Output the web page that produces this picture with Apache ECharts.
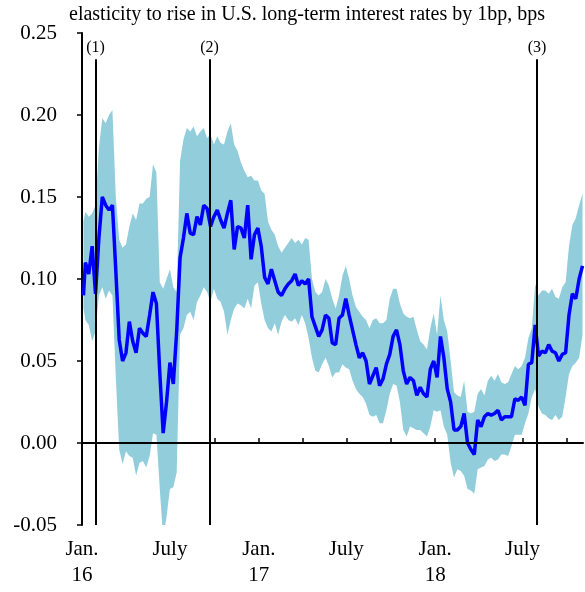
<!DOCTYPE html>
<html>
<head>
<meta charset="utf-8">
<script src="https://cdn.jsdelivr.net/npm/echarts@6/dist/echarts.min.js"></script>
<style>
html,body{margin:0;padding:0;background:#fff;}
#chart{width:585px;height:592px;}
</style>
</head>
<body>
<div id="chart"></div>
<script>
// ---- data ----
const titleText = 'elasticity to rise in U.S. long-term interest rates by 1bp, bps';

const dates = ['2016-01-04',
'2016-01-08','2016-01-15','2016-01-22','2016-01-29','2016-02-05','2016-02-12','2016-02-19','2016-02-26',
'2016-03-04','2016-03-11','2016-03-18','2016-03-25','2016-04-01','2016-04-08','2016-04-15','2016-04-22','2016-04-29',
'2016-05-06','2016-05-13','2016-05-20','2016-05-27','2016-06-03','2016-06-10','2016-06-17','2016-06-24',
'2016-07-01','2016-07-08','2016-07-15','2016-07-22','2016-07-29','2016-08-05','2016-08-12','2016-08-19','2016-08-26',
'2016-09-02','2016-09-09','2016-09-16','2016-09-23','2016-09-30','2016-10-07','2016-10-14','2016-10-21','2016-10-28',
'2016-11-04','2016-11-11','2016-11-18','2016-11-25','2016-12-02','2016-12-09','2016-12-16','2016-12-23','2016-12-30',
'2017-01-06','2017-01-13','2017-01-20','2017-01-27','2017-02-03','2017-02-10','2017-02-17','2017-02-24',
'2017-03-03','2017-03-10','2017-03-17','2017-03-24','2017-03-31','2017-04-07','2017-04-14','2017-04-21','2017-04-28',
'2017-05-05','2017-05-12','2017-05-19','2017-05-26','2017-06-02','2017-06-09','2017-06-16','2017-06-23','2017-06-30',
'2017-07-07','2017-07-14','2017-07-21','2017-07-28','2017-08-04','2017-08-11','2017-08-18','2017-08-25',
'2017-09-01','2017-09-08','2017-09-15','2017-09-22','2017-09-29','2017-10-06','2017-10-13','2017-10-20','2017-10-27',
'2017-11-03','2017-11-10','2017-11-17','2017-11-24','2017-12-01','2017-12-08','2017-12-15','2017-12-22','2017-12-29',
'2018-01-05','2018-01-12','2018-01-19','2018-01-26','2018-02-02','2018-02-09','2018-02-16','2018-02-23',
'2018-03-02','2018-03-09','2018-03-16','2018-03-23','2018-03-30','2018-04-06','2018-04-13','2018-04-20','2018-04-27',
'2018-05-04','2018-05-11','2018-05-18','2018-05-25','2018-06-01','2018-06-08','2018-06-15','2018-06-22','2018-06-29',
'2018-07-06','2018-07-13','2018-07-20','2018-07-27','2018-08-03','2018-08-10','2018-08-17','2018-08-24','2018-08-31',
'2018-09-07','2018-09-14','2018-09-21','2018-09-28','2018-10-05','2018-10-12','2018-10-19','2018-10-26','2018-11-02'];

const elasticity = [0.090,
0.110,0.103,0.120,0.091,0.125,0.150,0.145,0.142,0.145,0.105,
0.063,0.050,0.055,0.074,0.062,0.055,0.070,0.067,0.065,0.078,
0.092,0.085,0.043,0.006,0.025,0.049,0.036,0.068,0.113,0.125,
0.140,0.128,0.127,0.138,0.133,0.145,0.143,0.132,0.138,0.142,
0.136,0.131,0.140,0.148,0.118,0.132,0.131,0.125,0.145,0.112,
0.127,0.131,0.120,0.101,0.097,0.106,0.099,0.092,0.090,0.094,
0.097,0.099,0.103,0.096,0.099,0.097,0.100,0.077,0.071,0.065,
0.069,0.078,0.076,0.061,0.060,0.076,0.078,0.088,0.078,0.069,
0.060,0.052,0.055,0.050,0.036,0.041,0.046,0.035,0.039,0.048,
0.054,0.065,0.069,0.060,0.044,0.036,0.040,0.038,0.029,0.034,
0.030,0.028,0.045,0.050,0.040,0.065,0.052,0.033,0.025,0.008,
0.008,0.010,0.018,0.000,-0.004,-0.007,0.014,0.010,0.016,0.018,
0.017,0.018,0.020,0.014,0.016,0.016,0.016,0.027,0.026,0.028,
0.023,0.048,0.049,0.072,0.053,0.056,0.055,0.060,0.056,0.055,
0.050,0.054,0.055,0.078,0.091,0.088,0.100,0.108];

const bandLower = [0.082,
0.075,0.072,0.062,0.068,0.090,0.095,0.088,0.093,0.090,0.040,
-0.004,-0.013,-0.005,-0.008,-0.009,-0.020,-0.012,-0.011,-0.015,-0.008,
0.006,0.005,-0.028,-0.058,-0.045,-0.028,-0.027,-0.018,0.066,0.070,
0.078,0.080,0.075,0.086,0.090,0.095,0.092,0.086,0.094,0.088,
0.086,0.080,0.066,0.075,0.082,0.085,0.084,0.082,0.088,0.082,
0.096,0.098,0.085,0.075,0.070,0.068,0.073,0.066,0.074,0.078,
0.075,0.074,0.076,0.072,0.078,0.073,0.064,0.052,0.044,0.043,
0.048,0.052,0.047,0.040,0.043,0.043,0.048,0.046,0.045,0.038,
0.033,0.030,0.028,0.024,0.017,0.016,0.017,0.012,0.012,0.020,
0.030,0.036,0.035,0.025,0.008,0.004,0.010,0.009,0.008,0.008,
0.006,0.004,0.010,0.020,0.019,0.020,0.010,0.005,-0.012,-0.021,
-0.016,-0.017,-0.020,-0.028,-0.029,-0.031,-0.016,-0.015,-0.014,-0.010,
-0.009,-0.011,-0.010,-0.007,-0.007,-0.008,-0.002,0.005,0.005,0.005,
0.012,0.018,0.028,0.033,0.022,0.018,0.017,0.015,0.014,0.017,
0.014,0.016,0.028,0.042,0.047,0.049,0.052,0.066];

const bandUpper = [0.135,
0.141,0.138,0.140,0.145,0.180,0.198,0.195,0.200,0.203,0.150,
0.124,0.119,0.121,0.132,0.140,0.136,0.146,0.146,0.149,0.150,
0.170,0.165,0.098,0.094,0.100,0.106,0.095,0.092,0.172,0.185,
0.192,0.190,0.193,0.187,0.190,0.192,0.186,0.188,0.182,0.187,
0.183,0.182,0.190,0.195,0.182,0.178,0.171,0.166,0.162,0.163,
0.160,0.160,0.154,0.152,0.135,0.130,0.127,0.120,0.116,0.119,
0.122,0.125,0.122,0.124,0.121,0.125,0.124,0.100,0.092,0.090,
0.092,0.100,0.096,0.088,0.082,0.090,0.102,0.108,0.100,0.090,
0.083,0.080,0.077,0.075,0.070,0.075,0.076,0.073,0.073,0.075,
0.088,0.094,0.094,0.085,0.079,0.077,0.076,0.077,0.069,0.062,
0.060,0.057,0.070,0.079,0.066,0.090,0.075,0.068,0.050,0.031,
0.029,0.028,0.038,0.019,0.018,0.019,0.030,0.033,0.029,0.038,
0.041,0.038,0.042,0.037,0.036,0.037,0.042,0.047,0.045,0.047,
0.052,0.064,0.070,0.097,0.090,0.093,0.093,0.091,0.094,0.089,
0.088,0.095,0.098,0.120,0.133,0.137,0.145,0.152];

const eventDates = ['2016-01-29', '2016-09-21', '2018-07-31'];
const eventLabels = ['(1)', '(2)', '(3)'];

const xTickDates = ['2016-01-01','2016-04-01','2016-07-01','2016-10-01','2017-01-01','2017-04-01',
                    '2017-07-01','2017-10-01','2018-01-01','2018-04-01','2018-07-01','2018-10-01'];
const xLabelDates = ['2016-01-01','2016-07-01','2017-01-01','2017-07-01','2018-01-01','2018-07-01'];
const xLabelTexts = ['Jan.\n16','July','Jan.\n17','July','Jan.\n18','July'];

// ---- chart ----
const P = s => echarts.number.parseDate(s).getTime();
const FONT = 'Liberation Serif';
const xLabelTs = xLabelDates.map(P);
const X_MIN = P('2016-01-01'), X_MAX = P('2018-11-03');

const bandData = dates.map((d, i) => [P(d), bandLower[i], bandUpper[i]]);
const midData = dates.map((d, i) => [P(d), elasticity[i]]);

const eventLines = eventDates.map((d, i) => [
  { coord: [P(d), -0.05], symbol: 'none' },
  { coord: [P(d), 0.234], symbol: 'none',
    label: { show: true, position: 'end', formatter: eventLabels[i], distance: 3,
             color: '#000', fontFamily: FONT, fontSize: 16 } }
]);

function renderBand(params, api) {
  if (params.dataIndex !== 0) return null;
  const top = [], bottom = [];
  for (let i = 0; i < bandData.length; i++) {
    top.push(api.coord([bandData[i][0], bandData[i][2]]));
    bottom.push(api.coord([bandData[i][0], bandData[i][1]]));
  }
  const pts = top.concat(bottom.reverse());
  const cs = params.coordSys;
  return {
    type: 'polygon',
    shape: { points: pts },
    style: { fill: '#92CDDC', stroke: null },
    clipPath: { type: 'rect', shape: { x: cs.x, y: cs.y, width: cs.width, height: cs.height } },
    silent: true
  };
}

const chart = echarts.init(document.getElementById('chart'), null, { renderer: 'canvas' });
chart.setOption({
  animation: false,
  backgroundColor: '#fff',
  title: {
    text: titleText, left: 64, top: 0,
    textStyle: { fontFamily: FONT, fontSize: 20, fontWeight: 'normal', color: '#000' }
  },
  grid: { left: 82, right: 2, top: 33, bottom: 67, containLabel: false },
  xAxis: {
    type: 'value',
    min: X_MIN, max: X_MAX,
    splitLine: { show: false },
    axisLine: { show: true, lineStyle: { color: '#000', width: 2 } },
    axisTick: { show: true, inside: true, length: 5, lineStyle: { color: '#000', width: 1.5 },
                customValues: xTickDates.map(P) },
    axisLabel: {
      customValues: xLabelTs,
      formatter: v => { const i = xLabelTs.indexOf(v); return i >= 0 ? xLabelTexts[i] : ''; },
      fontFamily: FONT, fontSize: 21, lineHeight: 26, color: '#000', margin: 11,
      showMinLabel: true, hideOverlap: false
    }
  },
  yAxis: {
    type: 'value', min: -0.05, max: 0.25, interval: 0.05,
    splitLine: { show: false },
    axisLine: { show: true, lineStyle: { color: '#000', width: 2 } },
    axisTick: { show: true, inside: false, length: 5, lineStyle: { color: '#000', width: 1.5 } },
    axisLabel: { formatter: v => v.toFixed(2), fontFamily: FONT, fontSize: 21, color: '#000', margin: 25 }
  },
  series: [
    { type: 'custom', name: 'band', data: bandData, renderItem: renderBand,
      encode: { x: 0, y: [1, 2] }, silent: true, z: 1 },
    { type: 'line', name: 'elasticity', data: midData, symbol: 'none', z: 3,
      lineStyle: { color: '#0000FF', width: 3.5 },
      markLine: {
        silent: true, symbol: 'none', animation: false,
        lineStyle: { color: '#000', type: 'solid', width: 2 },
        label: { show: false },
        data: [
          [{ coord: [X_MIN, 0], symbol: 'none' }, { coord: [X_MAX, 0], symbol: 'none' }],
          ...eventLines
        ]
      }
    }
  ]
});
</script>
</body>
</html>
